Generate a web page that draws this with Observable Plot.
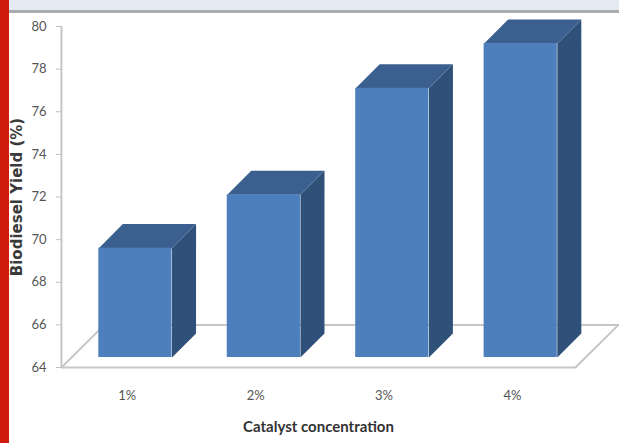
<!DOCTYPE html>
<html>
<head>
<meta charset="utf-8">
<script src="https://cdn.jsdelivr.net/npm/d3@7"></script>
<script src="https://cdn.jsdelivr.net/npm/@observablehq/plot@0.6"></script>
<style>
  html, body { margin: 0; padding: 0; background: #fff; overflow: hidden; }
  #frame { position: relative; width: 619px; height: 443px; }
  #frame svg { position: absolute; left: 0; top: 0; }
  #band { position: absolute; left: 9px; right: 0; top: 0; height: 10px; background: #e4eaf1; border-bottom: 3px solid #a9adb0; }
  #stripe { position: absolute; left: 0; top: 0; bottom: 0; width: 9px; background: #d01c0c; }
</style>
</head>
<body>
<div id="frame"><div id="band"></div><div id="stripe"></div></div>
<script>
// Catalyst loading against biodiesel yield
const categories = ["1%", "2%", "3%", "4%"];
const yields = [69.6, 72.1, 77.1, 79.2];
const yTicks = [64, 66, 68, 70, 72, 74, 76, 78, 80];

// Pseudo-3D extrusion, in scale units
const barBase = 64.47, barShift = 0.064, barHalf = 0.285;
const depthX = 0.187, depthY = 1.13;
const floorLeft = 0.488, floorRight = 4.49, floorDepthX = 0.335, floorDepthY = 2;

const bars = yields.map((v, i) => ({
  label: categories[i],
  value: v,
  x1: i + 1 + barShift - barHalf,
  x2: i + 1 + barShift + barHalf
}));

const topFaces = bars.flatMap(b => [
  [b.x1, b.value], [b.x2, b.value], [b.x2 + depthX, b.value + depthY], [b.x1 + depthX, b.value + depthY]
].map(([x, y]) => ({x, y, id: b.label})));

const sideFaces = bars.flatMap(b => [
  [b.x2, barBase], [b.x2 + depthX, barBase + depthY], [b.x2 + depthX, b.value + depthY], [b.x2, b.value]
].map(([x, y]) => ({x, y, id: b.label})));

const floorOutline = [
  {x: floorLeft, y: 64},
  {x: floorLeft + floorDepthX, y: 64 + floorDepthY},
  {x: floorRight + floorDepthX, y: 64 + floorDepthY},
  {x: floorRight, y: 64},
  {x: floorLeft, y: 64}
];

const font = "Lato, 'Open Sans', sans-serif";
const chart = Plot.plot({
  width: 619,
  height: 443,
  marginLeft: 61,
  marginRight: 44,
  marginTop: 26,
  marginBottom: 76,
  style: {background: "transparent", fontFamily: font},
  x: {domain: [1, 4], range: [126.7, 512]},
  y: {domain: [64, 80], range: [367, 26]},
  marks: [
    Plot.line(floorOutline, {x: "x", y: "y", stroke: "#c6c6c6", strokeWidth: 2}),
    Plot.ruleX([floorLeft], {y1: 64, y2: 80, stroke: "#c6c6c6", strokeWidth: 2}),
    Plot.axisY({
      ticks: yTicks, tickSize: 5, tickPadding: 10, label: null,
      stroke: "#c0c0c0", fill: "#555", fontSize: 13, tickFormat: d3.format("d")
    }),
    Plot.axisX({
      ticks: [1, 2, 3, 4], tickSize: 0, tickPadding: 23, label: null,
      fill: "#555", fontSize: 13, tickFormat: d => categories[d - 1]
    }),
    Plot.line(sideFaces, {x: "x", y: "y", z: "id", fill: "#2f5179", stroke: "none"}),
    Plot.line(topFaces, {x: "x", y: "y", z: "id", fill: "#3b5f8e", stroke: "none"}),
    Plot.rect(bars, {x1: "x1", x2: "x2", y1: barBase, y2: "value", fill: "#4d7fbc"}),
    Plot.text(["Biodiesel Yield (%)"], {
      frameAnchor: "left", textAnchor: "middle", rotate: -90, dx: -44,
      fontFamily: "'DejaVu Sans', sans-serif", fontSize: 15, fontWeight: "bold", fill: "#3a3a3a"
    }),
    Plot.text(["Catalyst concentration"], {
      frameAnchor: "bottom", dy: 64, fontSize: 15, fontWeight: "bold", fill: "#333"
    })
  ]
});
document.getElementById("frame").appendChild(chart);
</script>
</body>
</html>
